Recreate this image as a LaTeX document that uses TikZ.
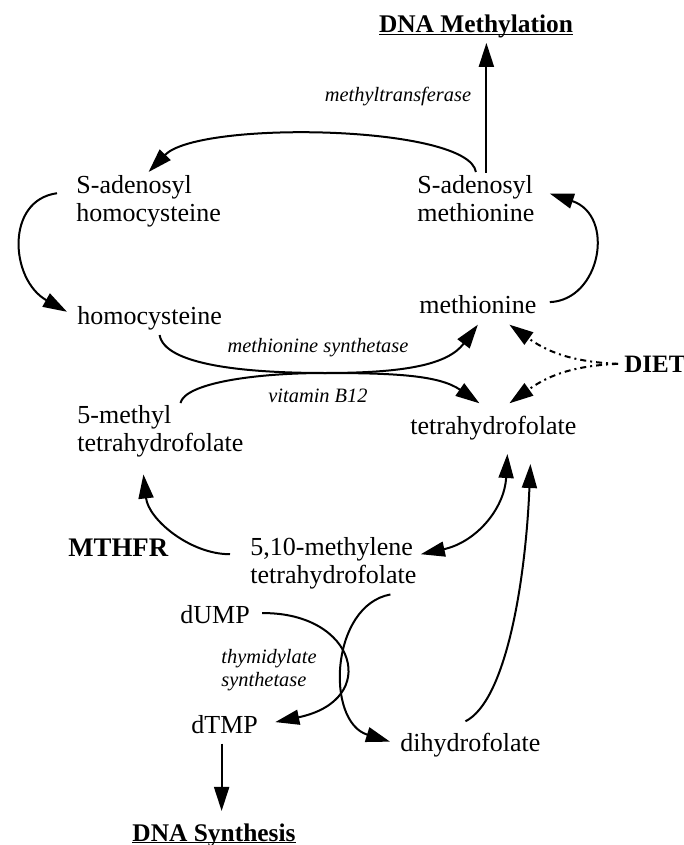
\documentclass[tikz,border=0pt]{standalone}
\usepackage{fontspec}
\setmainfont{Liberation Serif}
\usetikzlibrary{arrows.meta,calc}
\tikzstyle{arrow} = [line width=1pt,-{Triangle[length=12pt,width=7.5pt]}]
\tikzstyle{twoway} = [line width=1pt,{Triangle[length=12pt,width=7.5pt]}-{Triangle[length=12pt,width=7.5pt]}]
\tikzstyle{dietline} = [arrow, dash pattern=on 3pt off 2pt on 1pt off 2pt]
\tikzstyle{mol} = [inner sep=0pt, font=\fontsize{13}{14}\selectfont, align=left]
\tikzstyle{enz} = [inner sep=0pt, font=\fontsize{10.2}{11.5}\selectfont\itshape, align=left]
\tikzstyle{big} = [inner sep=0pt, font=\fontsize{12.7}{14}\selectfont\bfseries]
\newcommand{\undertext}[1]{\setbox0=\hbox{#1}\rlap{\rule[-1.2pt]{\wd0}{0.8pt}}\box0}

\begin{document}
\begin{tikzpicture}[x=0.5pt,y=-0.5pt]
        \useasboundingbox (0,0) rectangle (684,845);

        \node (methyl) [big, anchor=base] at (476,33) {\undertext{DNA Methylation}};
        \node (mtase) [enz, anchor=base] at (398,102) {methyltransferase};
        \node (sah) [mol, anchor=north west] at (76,175) {S-adenosyl\\homocysteine};
        \node (sam) [mol, anchor=north west] at (417,175) {S-adenosyl\\methionine};
        \node (hcy) [mol, anchor=base west] at (77,324) {homocysteine};
        \node (met) [mol, anchor=base west] at (419,313) {methionine};
        \node (mssyn) [enz, anchor=base] at (318,352) {methionine synthetase};
        \node (b12) [enz, anchor=base] at (318,402) {vitamin B12};
        \node (diet) [big, font=\fontsize{12.5}{14}\selectfont\bfseries, anchor=base west] at (624,372) {DIET};
        \node (mthf) [mol, anchor=north west] at (77,405) {5-methyl\\tetrahydrofolate};
        \node (thf) [mol, anchor=base west] at (410,434) {tetrahydrofolate};
        \node (mthfr) [big, font=\fontsize{13.4}{15}\selectfont\bfseries, anchor=base west] at (68,556) {MTHFR};
        \node (mlthf) [mol, anchor=north west] at (250,537) {5,10-methylene\\tetrahydrofolate};
        \node (dump) [mol, anchor=base west] at (180,623) {dUMP};
        \node (tsyn) [enz, anchor=north west] at (221,649) {thymidylate\\synthetase};
        \node (dtmp) [mol, anchor=base west] at (191,733) {dTMP};
        \node (dhf) [mol, anchor=base west] at (400,751) {dihydrofolate};
        \node (dnasyn) [big, anchor=base] at (214,841) {\undertext{DNA Synthesis}};
        \coordinate (meet) at (325,373);

        % methylation cycle
        \draw[arrow] ([yshift=1.5pt]sam.north) .. controls +(-7,-47) and +(50,-52) .. ([yshift=1.5pt]sah.north);
        \draw[arrow] ($(sam.north)+(10.5,-2)$) -- ($(sam.north |- methyl.south)+(10.5,4)$);
        \draw[arrow] ($(sah.west)+(-19,-8)$) .. controls +(-52,7) and +(-57,-32) .. ($(hcy.west)+(-10,-6)$);
        \draw[arrow] ($(met.east)+(13,-2)$) .. controls +(51,-2) and +(66,22) .. ($(sam.east)+(15,-5)$);

        % methionine synthetase / vitamin B12
        \draw[arrow] ($(hcy.south)+(10,5)$) .. controls +(5,30) and +(-80,0) .. (meet)
            .. controls +(80,0) and +(-30,40) .. ($(met.south)+(0,11)$);
        \draw[arrow] ($(mthf.north)+(20,-2)$) .. controls +(5,-20) and +(-70,0) .. (meet)
            .. controls +(70,0) and +(-40,-28) .. ($(thf.north)+(-14,-12)$);

        % diet
        \draw[dietline] ($(diet.west)+(-6,0)$) .. controls +(-50,-2) and +(35,25) .. ($(met.south)+(31.5,11)$);
        \draw[dietline] ($(diet.west)+(-6,0)$) .. controls +(-50,2) and +(35,-25) .. ($(thf.north)+(16,-12)$);

        % folate cycle
        \draw[arrow] ($(mlthf.west)+(-20,-9)$) .. controls +(-40,0) and +(5,45) .. ($(mthf.south)+(-17,17)$);
        \draw[twoway] ($(mlthf.east)+(4,-9)$) .. controls +(55,-12) and +(-3,55) .. ($(thf.south)+(14,14)$);
        \draw[arrow] ($(dhf.north)+(-5,-11)$) .. controls +(40,-20) and +(-5,120) .. ($(thf.south)+(37,24)$);
        \draw[arrow] ($(mlthf.south)+(57,5)$) .. controls +(-60,11) and +(-65,-20) .. ($(dhf.west)+(-10,-3)$);
        \draw[arrow] ($(dump.east)+(12,-1)$) .. controls +(94,-1) and +(106,-22) .. ($(dtmp.east)+(17,-2)$);
        \draw[arrow] ($(dtmp.south)+(-3,10)$) -- ($(dtmp.south |- dnasyn.north)+(-3,-12)$);

    \end{tikzpicture}
\end{document}
